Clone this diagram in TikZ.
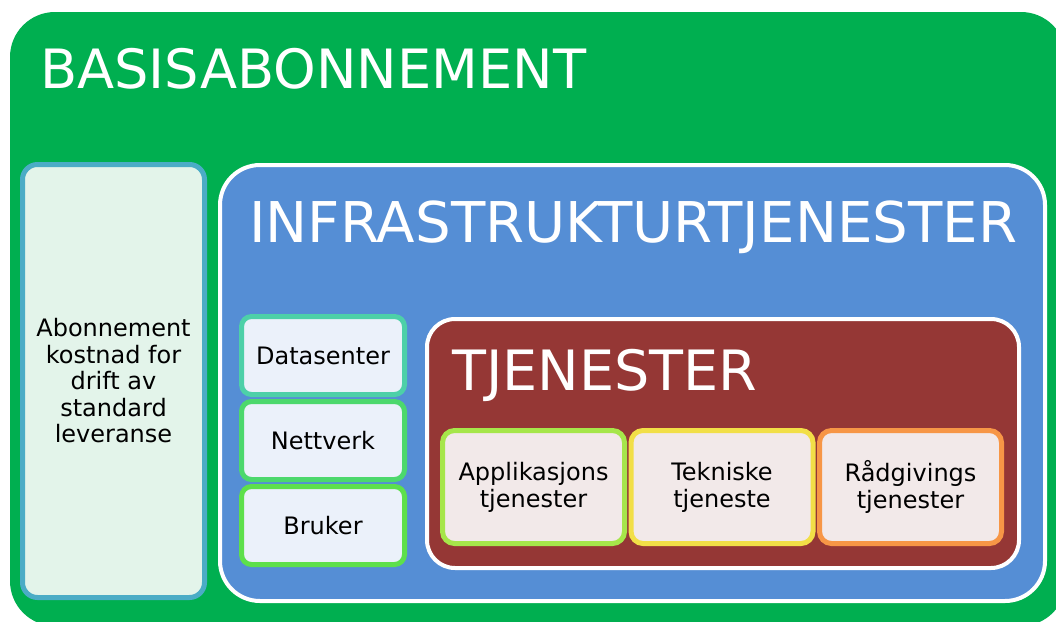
\documentclass[tikz,border=0pt]{standalone}
\usepackage{fontspec}
\setmainfont{DejaVu Sans}
\usepackage{tikz}
\usetikzlibrary{positioning}
\definecolor{basisgreen}{HTML}{00AF50}
\definecolor{infrablue}{HTML}{558ED5}
\definecolor{tjenred}{HTML}{953735}
\definecolor{leftfill}{HTML}{E3F4EA}
\definecolor{leftline}{HTML}{4BACC6}
\definecolor{stackfill}{HTML}{EBF1FA}
\definecolor{dataline}{HTML}{4DD0A8}
\definecolor{netline}{HTML}{4CD86C}
\definecolor{userline}{HTML}{5DE04B}
\definecolor{servfill}{HTML}{F2E9E9}
\definecolor{appline}{HTML}{A6E64A}
\definecolor{tekline}{HTML}{F2DF47}
\definecolor{radline}{HTML}{F79646}

\begin{document}
\begin{tikzpicture}[
    x=1pt, y=-1pt,
    frame/.style={rectangle, inner sep=0pt},
    heading/.style={anchor=base west, inner sep=0pt, text=white},
    stackbox/.style={rectangle, draw=#1, fill=stackfill, line width=5pt, rounded corners=10pt, minimum width=163pt, minimum height=78pt, inner sep=0pt, font=\fontsize{24}{27}\selectfont},
    servbox/.style={rectangle, draw=#1, fill=servfill, line width=5pt, rounded corners=12pt, minimum width=182pt, minimum height=113pt, inner sep=0pt, align=center, font=\fontsize{24}{27}\selectfont}
]
\useasboundingbox (0,0) rectangle (1056,621);
\clip (0,0) rectangle (1056,621);

% Basisabonnement
\node[frame, fill=basisgreen, rounded corners=45pt, minimum width=1056pt, minimum height=614pt] (basis) at (538,319) {};
\node[heading, font=\fontsize{54.2}{60}\selectfont] (basistitle) at (40,88.5) {BASISABONNEMENT};

\node[frame, draw=leftline, fill=leftfill, line width=5pt, rounded corners=15pt, minimum width=182pt, minimum height=433pt, align=center, font=\fontsize{24}{26.5}\selectfont] (cost) at (113.5,381) {Abonnement\\kostnad for\\drift av\\standard\\leveranse};

% Infrastrukturtjenester
\node[frame, draw=white, fill=infrablue, line width=4pt, rounded corners=40pt, minimum width=825pt, minimum height=436pt] (infra) at (632.5,383) {};
\node[heading, font=\fontsize{56.2}{60}\selectfont] (infratitle) at (249,242.5) {INFRASTRUKTURTJENESTER};

\node[stackbox=dataline] (data) at (323,355.5) {Datasenter};
\node[stackbox=netline, below=2pt of data] (net) {Nettverk};
\node[stackbox=userline, below=2pt of net] (user) {Bruker};

% Tjenester
\node[frame, draw=white, fill=tjenred, line width=4pt, rounded corners=28pt, minimum width=592pt, minimum height=249pt] (tjen) at (723,443.5) {};
\node[heading, font=\fontsize{55.6}{60}\selectfont] (tjentitle) at (452,390) {TJENESTER};

\node[servbox=appline] (app) at (533.5,487) {Applikasjons\\tjenester};
\node[servbox=tekline, right=1.5pt of app] (tek) {Tekniske\\tjeneste};
\node[servbox=radline, right=1.5pt of tek] (rad) {Rådgivings\\tjenester};

\end{tikzpicture}
\end{document}
